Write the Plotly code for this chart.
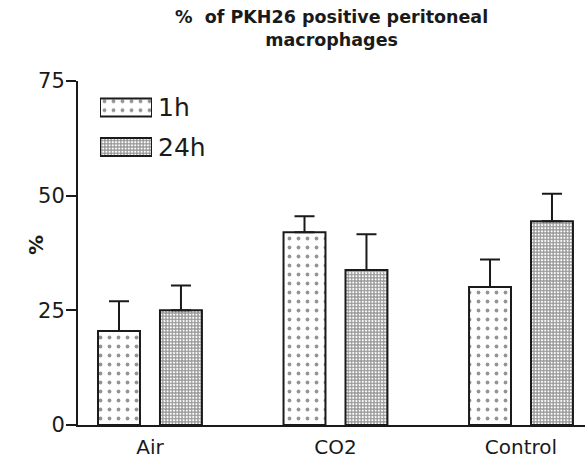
import plotly.graph_objects as go

categories = ["Air", "CO2", "Control"]
series_names = ["1h", "24h"]
values_1h = [20.5, 42.0, 30.1]
errors_1h = [6.5, 3.5, 6.0]
values_24h = [25.0, 33.8, 44.4]
errors_24h = [5.4, 7.8, 6.0]
y_ticks = [0, 25, 50, 75]
title_text = "%  of PKH26 positive peritoneal<br>macrophages"
y_title = "%"

FONT = "DejaVu Sans, Liberation Sans, Arial, sans-serif"
INK = "#1a1a1a"

patterns = {
    "1h": dict(shape=".", size=9, solidity=0.14, fgcolor="#2a2a2a", bgcolor="white", fillmode="overlay"),
    "24h": dict(shape="+", size=3.2, solidity=0.6, fgcolor="#222222", bgcolor="white", fillmode="overlay"),
}

fig = go.Figure()
for name, vals, errs in [("1h", values_1h, errors_1h), ("24h", values_24h, errors_24h)]:
    fig.add_trace(go.Bar(
        x=categories, y=vals, name=name, showlegend=False,
        marker=dict(color="white", pattern=patterns[name], line=dict(color=INK, width=2)),
        error_y=dict(type="data", array=errs, arrayminus=[0] * len(errs), symmetric=False,
                     color=INK, thickness=2, width=10),
    ))

# legend patches drawn as horizontal bars on an overlay axis
for name in series_names:
    fig.add_trace(go.Bar(
        y=[name], x=[1], orientation="h", width=0.46, showlegend=False,
        xaxis="x2", yaxis="y2", hoverinfo="skip",
        marker=dict(color="white", pattern=patterns[name], line=dict(color=INK, width=2)),
    ))

PW = 585 - 78
PH = 425 - 81

def px_x(p):
    return (p - 78) / PW

def px_y(p):
    return (425 - p) / PH

fig.update_layout(
    width=585, height=456,
    margin=dict(l=78, r=0, t=81, b=31, autoexpand=False),
    paper_bgcolor="white", plot_bgcolor="white",
    font=dict(family=FONT, color=INK),
    bargap=0.332, bargroupgap=0.323, barmode="group",
    xaxis=dict(range=[-0.388, 2.345], showline=True, linecolor=INK, linewidth=2,
               ticks="", tickfont=dict(size=20), showgrid=False, zeroline=False,
               ticklabelstandoff=3, automargin=False),
    yaxis=dict(range=[0, 75], tickvals=y_ticks, ticks="outside", ticklen=10, tickwidth=2,
               tickcolor=INK, showline=True, linecolor=INK, linewidth=2, showgrid=False,
               zeroline=False, tickfont=dict(size=21), ticklabelstandoff=-3, automargin=False),
    xaxis2=dict(domain=[px_x(100), px_x(152)], range=[0, 1], visible=False, anchor="y2"),
    yaxis2=dict(domain=[px_y(166.75), px_y(87.75)], anchor="x2", side="right",
                categoryorder="array", categoryarray=series_names, autorange="reversed",
                showline=False, showgrid=False, zeroline=False, ticks="",
                ticklabelstandoff=5, tickfont=dict(size=25), automargin=False),
    annotations=[
        dict(text="<b>" + title_text + "</b>", x=0.5, xref="paper", xanchor="center",
             y=px_y(5), yref="paper", yanchor="top", showarrow=False,
             font=dict(size=17.5, family=FONT, color=INK)),
        dict(text="<b>" + y_title + "</b>", x=px_x(36), xref="paper", xanchor="center",
             y=px_y(245), yref="paper", yanchor="middle", showarrow=False, textangle=-90,
             font=dict(size=20, family=FONT, color=INK)),
    ],
)

fig.write_html("out.html")
